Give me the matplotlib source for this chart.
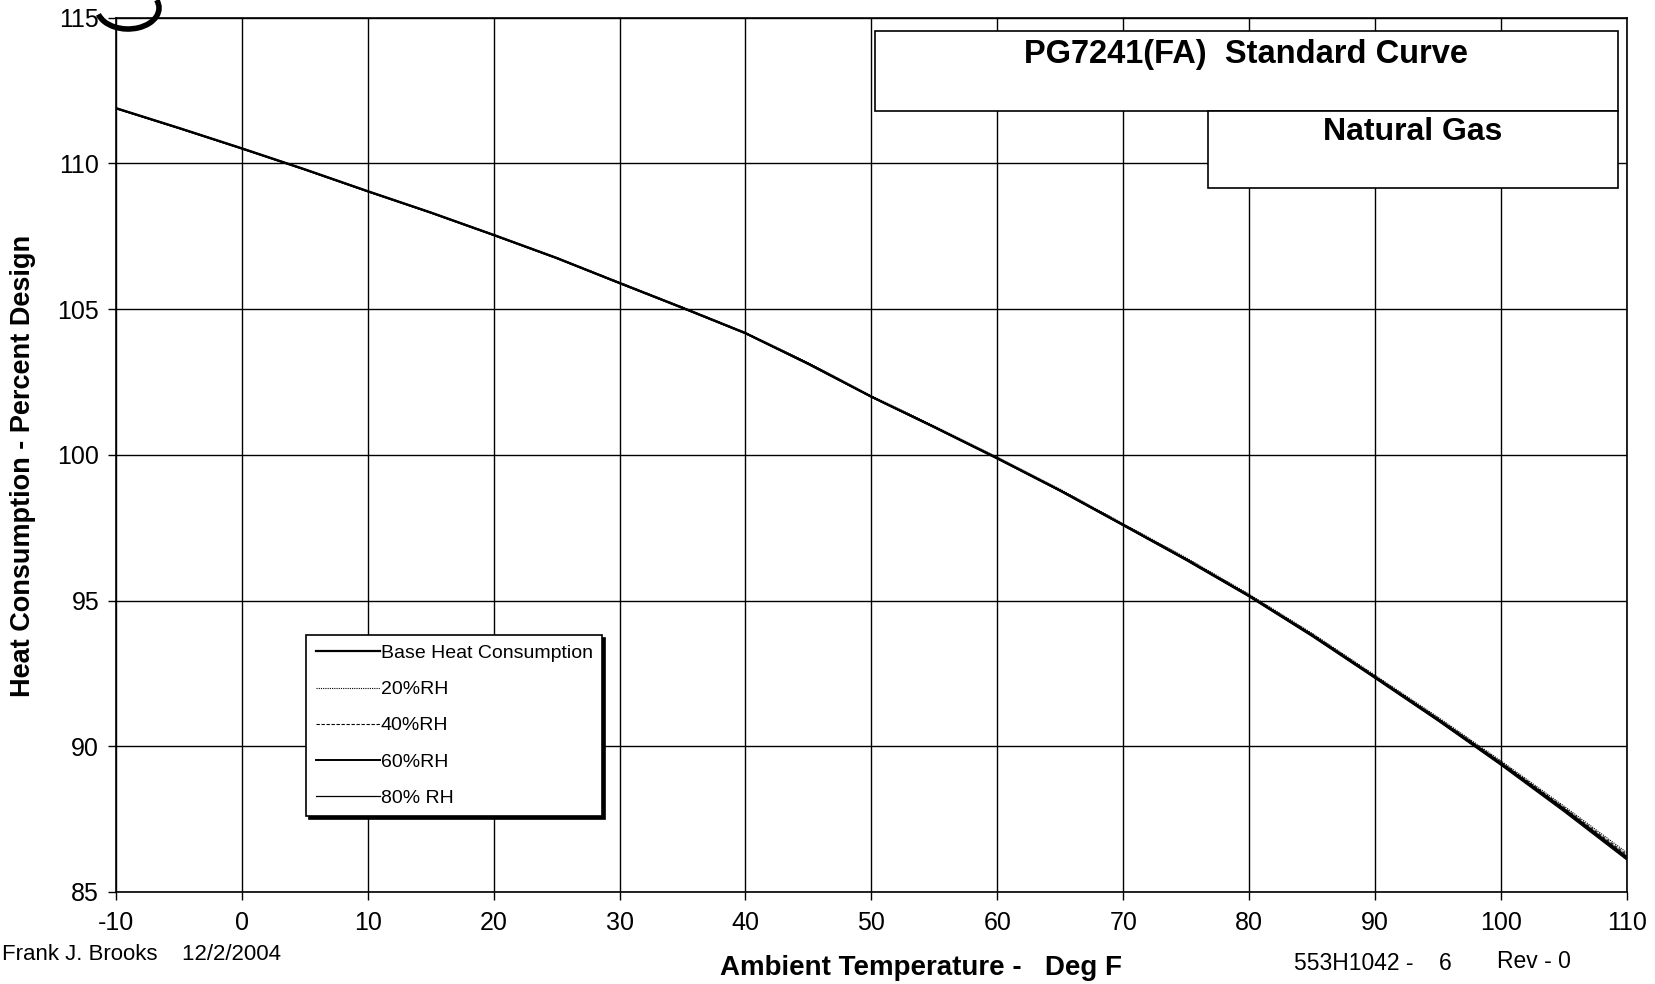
import numpy as np
import matplotlib.pyplot as plt
from matplotlib.patches import Rectangle, Arc

plt.rcParams['font.family'] = ['Liberation Sans', 'DejaVu Sans']
plt.rcParams['axes.unicode_minus'] = False

# ambient temperature, deg F
temp = [-10, -5, 0, 5, 10, 15, 20, 25, 30, 35, 40, 45, 50, 55, 60,
        65, 70, 75, 80, 85, 90, 95, 100, 105, 110]
# heat consumption, percent design
base = [111.9, 111.22, 110.52, 109.8, 109.05, 108.32, 107.55, 106.76, 105.9, 105.05, 104.18, 103.13,
        102.0, 100.96, 99.89, 98.78, 97.6, 96.42, 95.17, 93.82, 92.38, 90.93, 89.42, 87.85, 86.2]
rh20 = [111.9, 111.22, 110.52, 109.8, 109.05, 108.32, 107.56, 106.77, 105.92, 105.07, 104.2, 103.16,
        102.03, 100.99, 99.92, 98.82, 97.64, 96.47, 95.22, 93.88, 92.44, 91.0, 89.5, 87.95, 86.35]
rh40 = [111.9, 111.22, 110.52, 109.8, 109.05, 108.32, 107.55, 106.76, 105.91, 105.06, 104.19, 103.14,
        102.01, 100.97, 99.9, 98.8, 97.62, 96.44, 95.19, 93.85, 92.41, 90.96, 89.46, 87.9, 86.28]
rh60 = [111.89, 111.21, 110.51, 109.79, 109.04, 108.31, 107.54, 106.75, 105.89, 105.04, 104.17, 103.12,
        101.99, 100.95, 99.88, 98.77, 97.59, 96.4, 95.15, 93.8, 92.36, 90.9, 89.39, 87.81, 86.15]
rh80 = [111.88, 111.2, 110.5, 109.78, 109.03, 108.3, 107.53, 106.74, 105.88, 105.03, 104.16, 103.1,
        101.98, 100.93, 99.86, 98.75, 97.57, 96.38, 95.13, 93.77, 92.33, 90.87, 89.35, 87.76, 86.1]

fig = plt.figure(figsize=(16.55, 9.84), dpi=100)
ax = fig.add_axes([0.070, 0.0935, 0.913, 0.8885])

ax.plot(temp, base, color='black', lw=1.6, label='Base Heat Consumption')
ax.plot(temp, rh20, color='black', lw=0.8, ls=(0, (1, 1)), label='20%RH')
ax.plot(temp, rh40, color='black', lw=0.8, ls=(0, (3, 1.5)), label='40%RH')
ax.plot(temp, rh60, color='black', lw=1.4, label='60%RH')
ax.plot(temp, rh80, color='black', lw=0.9, label='80% RH')

ax.set_xlim(-10, 110)
ax.set_ylim(85, 115)
ax.set_xticks(np.arange(-10, 111, 10))
ax.set_yticks(np.arange(85, 116, 5))
ax.grid(True, color='black', lw=1.0)
ax.set_axisbelow(True)
for s in ax.spines.values():
    s.set_linewidth(1.2)
ax.tick_params(axis='both', labelsize=18, length=6, width=1, direction='out')
ax.tick_params(axis='x', pad=8)
ax.tick_params(axis='y', pad=6)

fig.text(23 / 1655, 1 - 466 / 984, 'Heat Consumption - Percent Design', fontsize=19.5,
         fontweight='bold', rotation=90, ha='center', va='center')

leg = ax.legend(loc='upper left', bbox_to_anchor=(0.1257, 0.294), fontsize=14,
                frameon=True, fancybox=False, shadow={'color': 'black', 'alpha': 1.0},
                edgecolor='black', framealpha=1, borderpad=0.5, labelspacing=0.95,
                handlelength=3.3, handletextpad=0.05, borderaxespad=0)
leg.get_frame().set_linewidth(1.2)

# title boxes
fig.patches.append(Rectangle((875 / 1655, 1 - 111 / 984), 743 / 1655, 80 / 984,
                             transform=fig.transFigure, fc='white', ec='black', lw=1.2))
fig.patches.append(Rectangle((1208 / 1655, 1 - 188 / 984), 410 / 1655, 77 / 984,
                             transform=fig.transFigure, fc='white', ec='black', lw=1.2))
fig.text(1246 / 1655, 1 - 54 / 984, 'PG7241(FA)  Standard Curve', fontsize=23.5,
         fontweight='bold', ha='center', va='center')
fig.text(1413 / 1655, 1 - 132 / 984, 'Natural Gas', fontsize=23,
         fontweight='bold', ha='center', va='center')

# footer texts
fig.text(0.001, 1 - 955 / 984, 'Frank J. Brooks    12/2/2004', fontsize=16, va='center')
fig.text(921 / 1655, 1 - 968 / 984, 'Ambient Temperature -   Deg F', fontsize=20,
         fontweight='bold', ha='center', va='center')
fig.text(1294 / 1655, 1 - 964 / 984, '553H1042 -    6', fontsize=16.5, va='center')
fig.text(1497 / 1655, 1 - 962 / 984, 'Rev - 0', fontsize=16.5, va='center')

# pen mark near the top-left corner
fig.patches.append(Arc((128 / 1655, 1 - 8 / 984), 62 / 1655, 42 / 984, theta1=200, theta2=385,
                       transform=fig.transFigure, color='black', lw=4))

fig.savefig('out.png', dpi=100)
